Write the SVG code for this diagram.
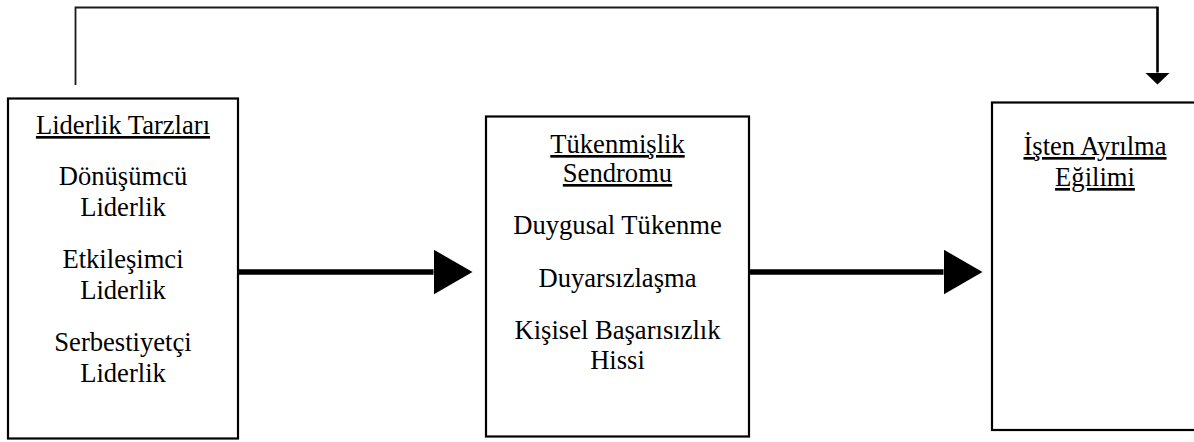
<svg xmlns="http://www.w3.org/2000/svg" width="1194" height="442" viewBox="0 0 1194 442">
  <style>
    .box { fill: #ffffff; stroke: #000000; stroke-width: 2.2; }
    .t { font-size: 26.6px; fill: #000000; text-anchor: middle; }
    .u { text-decoration: underline; }
    .thick { stroke: #000000; stroke-width: 5.5; fill: none; }
    .thin { stroke: #1a1a1a; stroke-width: 1.8; fill: none; }
  </style>
  <defs>
    <marker id="bigHead" viewBox="0 0 39 45" refX="0" refY="22.5" markerWidth="39" markerHeight="45" markerUnits="userSpaceOnUse" orient="auto">
      <path d="M0,0 L39,22.5 L0,45 Z" fill="#000000"/>
    </marker>
    <marker id="smallHead" viewBox="0 -12.5 12 25" refX="0" refY="0" markerWidth="12" markerHeight="25" markerUnits="userSpaceOnUse" orient="auto">
      <path d="M0,-12.5 L12,0 L0,12.5 Z" fill="#000000"/>
    </marker>
  </defs>
  <rect width="1194" height="442" fill="#ffffff"/>

  <g id="connectors">
    <path class="thin" d="M75.5,85 V7.5 H1157.5"/>
    <path d="M1157.5,6.7 V72.5" stroke="#000000" stroke-width="2.6" fill="none" marker-end="url(#smallHead)"/>
    <line class="thick" x1="238" y1="272" x2="433.5" y2="272" marker-end="url(#bigHead)"/>
    <line class="thick" x1="749" y1="272" x2="943.5" y2="272" marker-end="url(#bigHead)"/>
  </g>

  <g id="node-liderlik" font-family="Times New Roman">
    <rect class="box" x="8" y="98.5" width="230" height="340"/>
    <text class="t u" x="123" y="134">Liderlik Tarzları</text>
    <text class="t" x="123" y="185">Dönüşümcü</text>
    <text class="t" x="123" y="215.5">Liderlik</text>
    <text class="t" x="123" y="268">Etkileşimci</text>
    <text class="t" x="123" y="298.5">Liderlik</text>
    <text class="t" x="123" y="351">Serbestiyetçi</text>
    <text class="t" x="123" y="381.5">Liderlik</text>
  </g>

  <g id="node-tukenmislik" font-family="Times New Roman">
    <rect class="box" x="486" y="116.5" width="263" height="320"/>
    <text class="t u" x="617.5" y="153">Tükenmişlik</text>
    <text class="t u" x="617.5" y="182">Sendromu</text>
    <text class="t" x="617.5" y="233.5">Duygusal Tükenme</text>
    <text class="t" x="617.5" y="286.5">Duyarsızlaşma</text>
    <text class="t" x="617.5" y="338.5">Kişisel Başarısızlık</text>
    <text class="t" x="617.5" y="368.5">Hissi</text>
  </g>

  <g id="node-isten-ayrilma" font-family="Times New Roman">
    <rect class="box" x="992" y="102.5" width="206" height="327.5"/>
    <text class="t u" x="1095" y="155">İşten Ayrılma</text>
    <text class="t u" x="1095" y="186">Eğilimi</text>
  </g>
</svg>
